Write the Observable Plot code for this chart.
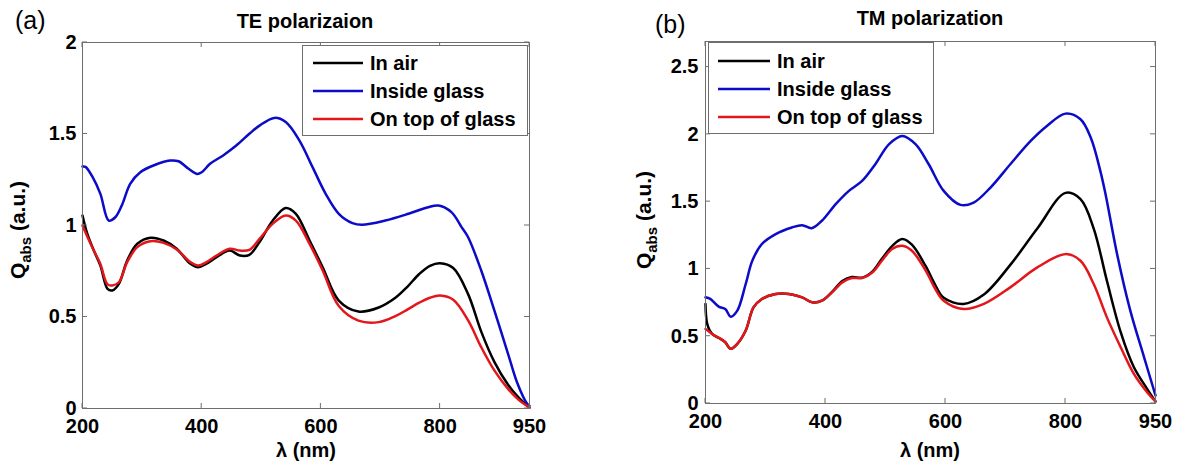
<!DOCTYPE html>
<html>
<head>
<meta charset="utf-8">
<script src="https://cdn.jsdelivr.net/npm/d3@7"></script>
<script src="https://cdn.jsdelivr.net/npm/@observablehq/plot@0.6"></script>
<style>
  body { margin: 0; background: #fff; }
  #fig { position: relative; width: 1179px; height: 463px; overflow: hidden; background: #fff; }
  #fig > svg { position: absolute; top: 0; }
</style>
</head>
<body>
<div id="fig"></div>
<script>
// Absorption efficiency spectra of the particle in three environments.
const seriesNames = ["In air", "Inside glass", "On top of glass"];
const seriesColors = ["#000000", "#0b0bc8", "#e3161b"];

const xTicks = [200, 400, 600, 800, 950];
const teYTicks = [0, 0.5, 1, 1.5, 2];
const tmYTicks = [0, 0.5, 1, 1.5, 2, 2.5];

// (a) TE polarization
const teWl   = [200, 208, 219, 230, 242, 250, 261, 275, 292, 314, 336, 358, 381, 394, 408, 425, 447, 464, 480, 497, 519, 541, 558, 581, 603, 630, 663, 697, 725, 745, 765, 783, 800, 822, 847, 869, 891, 914, 931, 950];
const teAir  = [1.055, 0.955, 0.863, 0.781, 0.654, 0.645, 0.681, 0.809, 0.900, 0.933, 0.918, 0.873, 0.791, 0.772, 0.791, 0.827, 0.863, 0.836, 0.840, 0.910, 1.026, 1.096, 1.064, 0.918, 0.772, 0.590, 0.530, 0.552, 0.605, 0.665, 0.735, 0.780, 0.794, 0.768, 0.625, 0.420, 0.255, 0.130, 0.062, 0.005];
const teTop  = [1.000, 0.940, 0.863, 0.790, 0.678, 0.672, 0.690, 0.800, 0.882, 0.914, 0.905, 0.869, 0.800, 0.781, 0.800, 0.836, 0.873, 0.863, 0.867, 0.927, 1.009, 1.055, 1.027, 0.900, 0.754, 0.560, 0.480, 0.472, 0.505, 0.540, 0.578, 0.605, 0.617, 0.594, 0.481, 0.335, 0.208, 0.107, 0.050, 0.005];
const teWlGlass = [200, 205, 217, 230, 244, 255, 267, 280, 297, 319, 347, 361, 378, 392, 400, 414, 436, 458, 480, 497, 522, 541, 564, 586, 608, 630, 653, 669, 708, 747, 780, 797, 819, 836, 847, 869, 891, 914, 930, 946, 950];
const teGlass   = [1.322, 1.320, 1.264, 1.173, 1.027, 1.045, 1.118, 1.228, 1.291, 1.328, 1.355, 1.351, 1.310, 1.282, 1.291, 1.337, 1.383, 1.437, 1.501, 1.546, 1.588, 1.565, 1.464, 1.319, 1.173, 1.064, 1.013, 1.004, 1.027, 1.064, 1.100, 1.109, 1.073, 0.991, 0.936, 0.754, 0.536, 0.299, 0.135, 0.026, 0.015];

// (b) TM polarization
const tmWl   = [200, 203, 211, 225, 233, 242, 253, 267, 280, 294, 317, 339, 361, 378, 394, 411, 428, 444, 461, 478, 494, 511, 528, 544, 567, 583, 597, 630, 664, 708, 753, 800, 825, 847, 869, 892, 914, 936, 950];
const tmAir  = [0.740, 0.590, 0.517, 0.480, 0.455, 0.406, 0.443, 0.542, 0.714, 0.777, 0.814, 0.814, 0.789, 0.752, 0.764, 0.830, 0.910, 0.940, 0.935, 0.980, 1.075, 1.170, 1.222, 1.180, 1.020, 0.880, 0.785, 0.740, 0.810, 1.030, 1.300, 1.565, 1.519, 1.300, 0.912, 0.530, 0.269, 0.109, 0.015];
const tmTop  = [0.554, 0.545, 0.517, 0.480, 0.455, 0.406, 0.443, 0.542, 0.714, 0.777, 0.814, 0.814, 0.789, 0.752, 0.764, 0.826, 0.900, 0.932, 0.932, 0.974, 1.061, 1.148, 1.172, 1.135, 0.987, 0.851, 0.764, 0.702, 0.740, 0.863, 1.011, 1.110, 1.061, 0.888, 0.640, 0.418, 0.220, 0.084, 0.015];
const tmWlGlass = [200, 208, 222, 233, 242, 253, 267, 278, 294, 317, 344, 361, 377, 394, 417, 439, 461, 483, 506, 528, 550, 572, 597, 625, 647, 675, 708, 742, 769, 800, 825, 842, 858, 867, 886, 908, 931, 950];
const tmGlass   = [0.789, 0.777, 0.720, 0.702, 0.645, 0.690, 0.888, 1.061, 1.185, 1.259, 1.308, 1.325, 1.303, 1.358, 1.481, 1.580, 1.654, 1.778, 1.927, 1.988, 1.927, 1.778, 1.580, 1.476, 1.493, 1.605, 1.778, 1.951, 2.062, 2.154, 2.112, 1.976, 1.729, 1.550, 1.110, 0.690, 0.343, 0.060];

const FONT = "'Liberation Sans', Arial, Helvetica, sans-serif";
const AXIS = "#6e6e6e";
const LINE_W = 2.5;

const rows = (wl, q) => wl.map((w, i) => ({wl: w, q: q[i]}));

// Inward-pointing ticks on all four sides of the frame, placed with the chart scales.
function innerTicks(xt, yt, len = 5) {
  return (index, scales, values, dims) => {
    const {x, y} = scales;
    const x0 = dims.marginLeft, x1 = dims.width - dims.marginRight;
    const y0 = dims.marginTop, y1 = dims.height - dims.marginBottom;
    const g = d3.create("svg:g").attr("stroke", AXIS).attr("stroke-width", 1).attr("fill", "none");
    for (const t of xt) {
      const px = x(t);
      g.append("line").attr("x1", px).attr("x2", px).attr("y1", y1).attr("y2", y1 - len);
      g.append("line").attr("x1", px).attr("x2", px).attr("y1", y0).attr("y2", y0 + len);
    }
    for (const t of yt) {
      const py = y(t);
      g.append("line").attr("x1", x0).attr("x2", x0 + len).attr("y1", py).attr("y2", py);
      g.append("line").attr("x1", x1).attr("x2", x1 - len).attr("y1", py).attr("y2", py);
    }
    return g.node();
  };
}

function panel({width, margins, yMax, yTicks, yPad, air, glass, top}) {
  const lineOpts = (color) => ({x: "wl", y: "q", stroke: color, strokeWidth: LINE_W, curve: "catmull-rom", strokeLinejoin: "round", strokeLinecap: "round"});
  return Plot.plot({
    width,
    height: 463,
    ...margins,
    style: {fontFamily: FONT, fontSize: "20px", fontWeight: "bold", color: "#000", background: "transparent", overflow: "visible"},
    x: {domain: [200, 950]},
    y: {domain: [0, yMax]},
    marks: [
      Plot.line(air, lineOpts(seriesColors[0])),
      Plot.line(glass, lineOpts(seriesColors[1])),
      Plot.line(top, lineOpts(seriesColors[2])),
      Plot.frame({stroke: AXIS, strokeWidth: 1}),
      innerTicks(xTicks, yTicks),
      Plot.axisX({ticks: xTicks, tickSize: 0, tickPadding: 10, tickFormat: d => String(d), label: null}),
      Plot.axisY({ticks: yTicks, tickSize: 0, tickPadding: yPad, tickFormat: d => String(d), label: null})
    ]
  });
}

const fig = document.getElementById("fig");

const svgA = panel({
  width: 590,
  margins: {marginLeft: 82, marginRight: 61, marginTop: 42, marginBottom: 55},
  yMax: 2, yTicks: teYTicks, yPad: 6,
  air: rows(teWl, teAir), glass: rows(teWlGlass, teGlass), top: rows(teWl, teTop)
});
svgA.style.left = "0px";
fig.appendChild(svgA);

const svgB = panel({
  width: 589,
  margins: {marginLeft: 115, marginRight: 24, marginTop: 41, marginBottom: 60},
  yMax: 2.69, yTicks: tmYTicks, yPad: 7,
  air: rows(tmWl, tmAir), glass: rows(tmWlGlass, tmGlass), top: rows(tmWl, tmTop)
});
svgB.style.left = "590px";
fig.appendChild(svgB);

// Panel letters, titles, axis labels and legends
const ov = d3.select(fig).append("svg")
  .attr("width", 1179).attr("height", 463)
  .style("left", "0px").style("pointer-events", "none")
  .attr("font-family", FONT);

const panels = [
  {letter: "(a)", lx: 15, ly: 29, title: "TE polarizaion", tx: 305, ty: 28,
   xlx: 306, xly: 457, ylx: 25, yly: 230,
   legend: {x: 302, y: 45, w: 225, h: 90, lineX: 313, lineX2: 363, textX: 370, rows: [63, 91, 119]}},
  {letter: "(b)", lx: 655, ly: 33, title: "TM polarization", tx: 930, ty: 25,
   xlx: 930, xly: 457, ylx: 651, yly: 220,
   legend: {x: 708, y: 42, w: 225, h: 91, lineX: 718, lineX2: 770, textX: 777, rows: [61, 89, 117]}}
];

for (const p of panels) {
  ov.append("text").attr("x", p.lx).attr("y", p.ly)
    .attr("font-size", 25).attr("font-weight", "normal").attr("fill", "#000").text(p.letter);
  ov.append("text").attr("x", p.tx).attr("y", p.ty).attr("text-anchor", "middle")
    .attr("font-size", 20).attr("font-weight", "bold").attr("fill", "#000").text(p.title);
  ov.append("text").attr("x", p.xlx).attr("y", p.xly).attr("text-anchor", "middle")
    .attr("font-size", 20).attr("font-weight", "bold").attr("fill", "#000").text("λ (nm)");
  const yl = ov.append("text")
    .attr("transform", `translate(${p.ylx},${p.yly}) rotate(-90)`)
    .attr("text-anchor", "middle")
    .attr("font-size", 21).attr("font-weight", "bold").attr("fill", "#000");
  yl.append("tspan").text("Q");
  yl.append("tspan").attr("font-size", 15).attr("dy", 6).text("abs");
  yl.append("tspan").attr("dy", -6).text(" (a.u.)");

  const L = p.legend;
  ov.append("rect").attr("x", L.x + 0.5).attr("y", L.y + 0.5).attr("width", L.w).attr("height", L.h)
    .attr("fill", "#fff").attr("stroke", AXIS).attr("stroke-width", 1);
  seriesNames.forEach((name, i) => {
    const cy = L.rows[i];
    ov.append("line").attr("x1", L.lineX).attr("x2", L.lineX2).attr("y1", cy).attr("y2", cy)
      .attr("stroke", seriesColors[i]).attr("stroke-width", LINE_W);
    ov.append("text").attr("x", L.textX).attr("y", cy + 7)
      .attr("font-size", 20).attr("font-weight", "bold").attr("fill", "#000").text(name);
  });
}
</script>
</body>
</html>
